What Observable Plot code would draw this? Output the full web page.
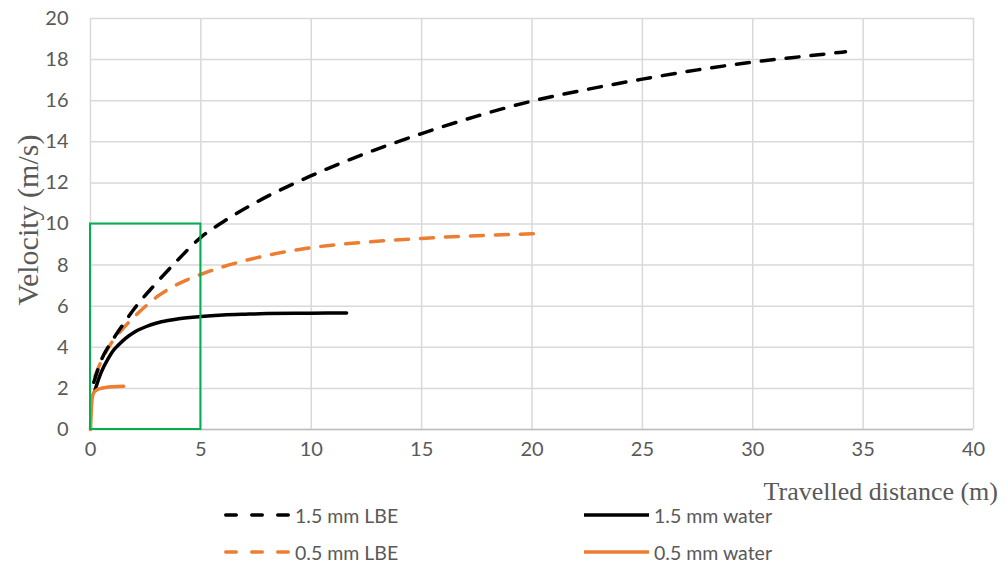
<!DOCTYPE html>
<html>
<head>
<meta charset="utf-8">
<script src="https://cdn.jsdelivr.net/npm/d3@7"></script>
<script src="https://cdn.jsdelivr.net/npm/@observablehq/plot@0.6"></script>
<style>
  body { margin: 0; background: #fff; }
  #wrap { position: relative; width: 1006px; height: 566px; }
  .leg { position: absolute; display: flex; align-items: center; font-family: Lato, sans-serif; font-size: 19.5px; color: #595959; }
  .leg svg { display: block; margin-right: 5px; }
</style>
</head>
<body>
<div id="wrap"></div>
<script>
// ---- data ----
const xTicks = [0, 5, 10, 15, 20, 25, 30, 35, 40];
const yTicks = [0, 2, 4, 6, 8, 10, 12, 14, 16, 18, 20];
const xTitle = "Travelled distance (m)";
const yTitle = "Velocity (m/s)";

const seriesNames = ["1.5 mm LBE", "1.5 mm water", "0.5 mm LBE", "0.5 mm water"];

const lbe15X = [0.15, 0.5, 1, 1.5, 2, 3, 4, 5, 6, 7.5, 10, 12.5, 15, 17.5, 20, 22.5, 25, 27.5, 30, 32.5, 34.2];
const lbe15Y = [2.3, 3.4, 4.35, 5.15, 5.9, 7.15, 8.3, 9.35, 10.1, 11.05, 12.35, 13.45, 14.4, 15.25, 15.98, 16.55, 17.05, 17.5, 17.88, 18.18, 18.38];

const lbe05X = [0.2, 0.5, 1.0, 1.5, 2, 3, 4, 5, 6, 7.5, 10, 12.5, 15, 17.5, 20, 20.6];
const lbe05Y = [2.6, 3.35, 4.3, 4.95, 5.5, 6.45, 7.1, 7.55, 7.92, 8.35, 8.85, 9.12, 9.3, 9.43, 9.52, 9.54];

const wat15X = [0.2, 0.4, 0.6, 0.8, 1.0, 1.3, 1.6, 2.0, 2.5, 3.0, 3.5, 4, 5, 6, 7, 8, 10, 11.6];
const wat15Y = [1.9, 2.55, 3.05, 3.45, 3.8, 4.15, 4.45, 4.75, 5.0, 5.18, 5.3, 5.39, 5.5, 5.57, 5.61, 5.64, 5.66, 5.67];

const wat05X = [0, 0.03, 0.08, 0.15, 0.3, 0.5, 0.75, 1.0, 1.5];
const wat05Y = [0, 0.8, 1.55, 1.8, 1.93, 2.01, 2.06, 2.08, 2.1];

const boxX = [0, 5];
const boxY = [0, 10];

// ---- styles ----
const BLACK = "#000000";
const ORANGE = "#ed7d31";
const GRID = "#d9d9d9";
const TEXT = "#595959";
const DASH = "13,12";

const lineOpts = (xs, ys, color, dashed) => ({
  x: xs, y: ys, stroke: color, strokeWidth: 3.5, curve: "monotone-x",
  strokeDasharray: dashed ? DASH : null
});

const chart = Plot.plot({
  width: 1006,
  height: 500,
  marginTop: 18,
  marginBottom: 71,
  marginLeft: 90,
  marginRight: 33,
  x: { domain: [0, 40] },
  y: { domain: [0, 20] },
  style: { fontFamily: "Lato, sans-serif", fontSize: "20px", color: TEXT, background: "#fff" },
  marks: [
    Plot.gridX(xTicks, { stroke: GRID, strokeOpacity: 1, strokeWidth: 1.5 }),
    Plot.gridY(yTicks, { stroke: GRID, strokeOpacity: 1, strokeWidth: 1.5 }),
    Plot.ruleY([0], { stroke: "#bfbfbf", strokeWidth: 1.5 }),
    Plot.axisX(xTicks, { tickSize: 0, tickPadding: 12, label: null, fill: TEXT }),
    Plot.axisY(yTicks, { tickSize: 0, tickPadding: 22, label: null, fill: TEXT }),
    Plot.line(wat15X, lineOpts(wat15X, wat15Y, BLACK, false)),
    Plot.line(wat05X, lineOpts(wat05X, wat05Y, ORANGE, false)),
    Plot.line(lbe05X, lineOpts(lbe05X, lbe05Y, ORANGE, true)),
    Plot.line(lbe15X, lineOpts(lbe15X, lbe15Y, BLACK, true)),
    Plot.rect([0], { x1: () => boxX[0], x2: () => boxX[1], y1: () => boxY[0], y2: () => boxY[1], fill: "none", stroke: "#00b050", strokeWidth: 2 })
  ]
});

const svg = d3.select(chart);
svg.append("text")
  .attr("transform", "translate(38,220) rotate(-90)")
  .attr("text-anchor", "middle")
  .attr("font-family", "'Liberation Serif', serif")
  .attr("font-size", 30)
  .attr("fill", TEXT)
  .text(yTitle);
svg.append("text")
  .attr("x", 998).attr("y", 500)
  .attr("text-anchor", "end")
  .attr("font-family", "'Liberation Serif', serif")
  .attr("font-size", 26)
  .attr("fill", TEXT)
  .text(xTitle);
svg.attr("overflow", "visible");

const wrap = document.getElementById("wrap");
wrap.appendChild(chart);

// ---- legend ----
const legendItems = [
  { name: seriesNames[0], color: BLACK, dashed: true, left: 222, top: 515, len: 68 },
  { name: seriesNames[1], color: BLACK, dashed: false, left: 584, top: 515, len: 65 },
  { name: seriesNames[2], color: ORANGE, dashed: true, left: 222, top: 552, len: 68 },
  { name: seriesNames[3], color: ORANGE, dashed: false, left: 584, top: 552, len: 65 }
];
for (const it of legendItems) {
  const div = document.createElement("div");
  div.className = "leg";
  div.style.left = it.left + "px";
  div.style.top = (it.top - 12) + "px";
  div.style.height = "24px";
  const dash = it.dashed ? `stroke-dasharray="10.5,15.5" stroke-linecap="round"` : "";
  div.innerHTML = `<svg width="${it.len}" height="24"><line x1="${it.dashed ? 3.75 : 0}" x2="${it.len}" y1="12" y2="12" stroke="${it.color}" stroke-width="3.5" ${dash}/></svg><span>${it.name}</span>`;
  wrap.appendChild(div);
}
</script>
</body>
</html>
